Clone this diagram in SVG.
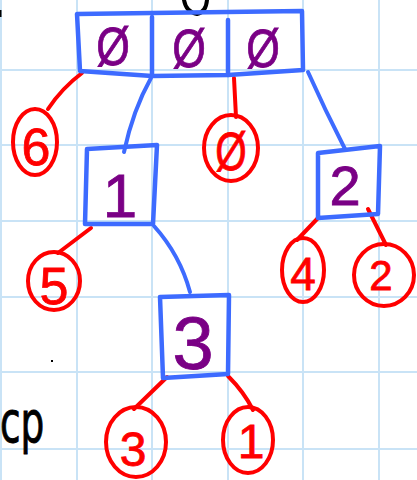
<svg xmlns="http://www.w3.org/2000/svg" width="417" height="480" viewBox="0 0 417 480">
<style>
.grid{stroke:#c9e3f6;stroke-width:2}
.box{fill:none;stroke:#3d6bff;stroke-width:4.5;stroke-linejoin:round;stroke-linecap:round}
.ring{fill:none;stroke:#ff0000;stroke-width:4;stroke-linecap:round}
.bl{fill:none;stroke:#3d6bff;stroke-width:4;stroke-linecap:round}
.rl{fill:none;stroke:#ff0000;stroke-width:4;stroke-linecap:round}
.pv{font-family:"Liberation Sans",Arial,sans-serif;fill:#7a0085;stroke:#7a0085;stroke-width:0.8;text-anchor:middle}
.rv{font-family:"Liberation Sans",Arial,sans-serif;fill:#ff0000;stroke:#ff0000;stroke-width:0.8;text-anchor:middle}
.ink{fill:none;stroke:#000;stroke-width:4;stroke-linecap:round}
</style>
<rect width="417" height="480" fill="#ffffff"/>
<g id="grid">
<line class="grid" x1="1" y1="0" x2="1" y2="480"/>
<line class="grid" x1="77" y1="0" x2="77" y2="480"/>
<line class="grid" x1="152" y1="0" x2="152" y2="480"/>
<line class="grid" x1="228" y1="0" x2="228" y2="480"/>
<line class="grid" x1="303" y1="0" x2="303" y2="480"/>
<line class="grid" x1="379" y1="0" x2="379" y2="480"/>
<line class="grid" x1="0" y1="70" x2="417" y2="70"/>
<line class="grid" x1="0" y1="145" x2="417" y2="145"/>
<line class="grid" x1="0" y1="221" x2="417" y2="221"/>
<line class="grid" x1="0" y1="297" x2="417" y2="297"/>
<line class="grid" x1="0" y1="372" x2="417" y2="372"/>
<line class="grid" x1="0" y1="449" x2="417" y2="449"/>
</g>
<g id="marks">
<path class="ink" d="M184,0 Q186,12 197,14 Q206,12 207,0"/>
<line x1="0.5" y1="10" x2="0.5" y2="17" stroke="#000" stroke-width="2"/>
<rect x="51" y="360" width="2" height="2" fill="#000"/>
<text transform="translate(0,442) scale(0.75,1.15)" font-family="'DejaVu Sans',sans-serif" font-size="50" fill="#000" stroke="#000" stroke-width="0.8">cp</text>
</g>
<g id="connectors">
<path class="rl" d="M82,73 Q62,88 48,109"/>
<path class="bl" d="M151,78 Q133,110 124,152"/>
<path class="rl" d="M234,78 L236,117"/>
<path class="bl" d="M308,72 Q325,110 345,149"/>
<path class="rl" d="M91,228 L58,253"/>
<path class="bl" d="M154,226 Q180,255 190,292"/>
<path class="rl" d="M318,218 L297,240"/>
<path class="rl" d="M368,209 L386,245"/>
<path class="rl" d="M167,377 L134,409"/>
<path class="rl" d="M228,376 Q244,392 253,410"/>
</g>
<g id="root">
<path class="box" d="M77,14 L302,11 L303,70 L228,75 L152,76 L80,71 Z"/>
<line class="box" x1="152" y1="17" x2="152" y2="76"/>
<line class="box" x1="228" y1="20" x2="228" y2="75"/>
<text class="pv" transform="translate(113,65) scale(0.8,1)" font-size="54">Ø</text>
<text class="pv" transform="translate(189,67) scale(0.8,1)" font-size="54">Ø</text>
<text class="pv" transform="translate(263,67) scale(0.8,1)" font-size="54">Ø</text>
</g>
<g id="n6">
<ellipse class="ring" cx="35" cy="142" rx="22" ry="33"/>
<text class="rv" x="36" y="165" font-size="52">6</text>
</g>
<g id="n0">
<ellipse class="ring" cx="231" cy="148" rx="27" ry="33"/>
<text class="rv" transform="translate(231,170) scale(0.75,1)" font-size="54">Ø</text>
</g>
<g id="n1">
<path class="box" d="M87,149 L157,145 L153,224 L85,224 Z"/>
<text class="pv" x="120" y="217" font-size="62">1</text>
</g>
<g id="n2">
<path class="box" d="M318,153 L380,146 L378,214 L318,218 Z"/>
<text class="pv" x="345" y="205" font-size="56">2</text>
</g>
<g id="n5">
<ellipse class="ring" cx="54" cy="281" rx="26" ry="29"/>
<text class="rv" x="54" y="304" font-size="52">5</text>
</g>
<g id="n4">
<ellipse class="ring" cx="303" cy="270" rx="21" ry="32"/>
<text class="rv" x="303" y="290" font-size="46">4</text>
</g>
<g id="n2b">
<ellipse class="ring" cx="384" cy="275" rx="30" ry="31"/>
<text class="rv" x="381" y="290" font-size="42">2</text>
</g>
<g id="n3">
<path class="box" d="M160,297 L229,295 L228,374 L163,378 Z"/>
<text class="pv" x="193" y="369" font-size="74">3</text>
</g>
<g id="n3b">
<ellipse class="ring" cx="136" cy="442" rx="30" ry="35"/>
<text class="rv" x="133" y="466" font-size="48">3</text>
</g>
<g id="n1b">
<ellipse class="ring" cx="248" cy="440" rx="25" ry="33"/>
<text class="rv" x="251" y="458" font-size="48">1</text>
</g>
</svg>
